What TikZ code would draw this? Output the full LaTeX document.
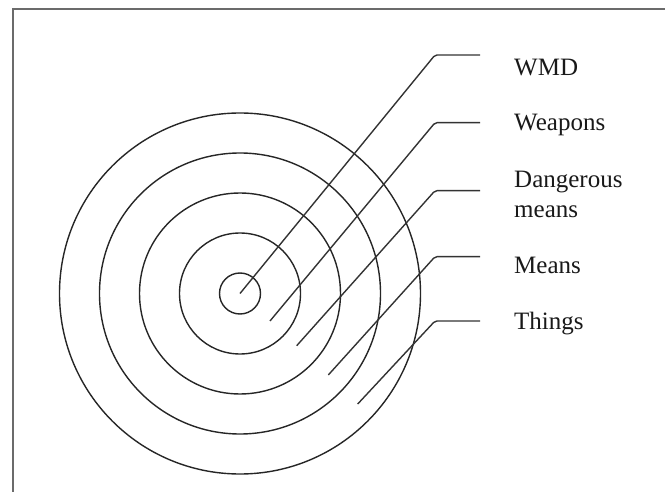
\documentclass[tikz,border=0pt]{standalone}
\usepackage{fontspec}
\setmainfont{Liberation Serif}
\begin{document}
\begin{tikzpicture}[x=1pt,y=-1pt,
  ring/.style={circle, draw=black!85, line width=1.4pt, inner sep=0pt},
  leader/.style={draw=black!80, line width=1.4pt, rounded corners=2pt},
  frame/.style={draw=black!58, line width=2pt},
  lbl/.style={anchor=base west, inner sep=0pt, align=left,
    font=\fontsize{25}{30}\selectfont, text=black!90}]
\useasboundingbox (0,0) rectangle (665,492);
% frame (runs off the right and bottom edges)
\draw[frame] (12.7,495) -- (12.7,9.3) -- (668,9.3);
% rings
\coordinate (ctr) at (240,293.5);
\node[ring, minimum size=41pt]  (r1) at (ctr) {};
\node[ring, minimum size=121pt] (r2) at (ctr) {};
\node[ring, minimum size=201pt] (r3) at (ctr) {};
\node[ring, minimum size=281pt] (r4) at (ctr) {};
\node[ring, minimum size=361pt] (r5) at (ctr) {};
% leader start points
\coordinate (s1) at (240,293.5);
\coordinate (s2) at (270,321);
\coordinate (s3) at (296.7,345.7);
\coordinate (s4) at (328.3,375);
\coordinate (s5) at (357.7,404);
% bends and ends
\coordinate (b1) at (435,55);    \coordinate (e1) at (480,55);
\coordinate (b2) at (435,122.7); \coordinate (e2) at (480,122.7);
\coordinate (b3) at (435,190.7); \coordinate (e3) at (480,190.7);
\coordinate (b4) at (435,256.7); \coordinate (e4) at (480,256.7);
\coordinate (b5) at (435,321);   \coordinate (e5) at (480,321);
% labels
\node[lbl] (l1) at (514,76) {WMD};
\node[lbl] (l2) at (514,131) {Weapons};
\node[lbl] (l3) at (514,218) {Dangerous\\means};
\node[lbl] (l4) at (514,273) {Means};
\node[lbl] (l5) at (514,330) {Things};
% leaders
\draw[leader] (s1) -- (b1) -- (e1);
\draw[leader] (s2) -- (b2) -- (e2);
\draw[leader] (s3) -- (b3) -- (e3);
\draw[leader] (s4) -- (b4) -- (e4);
\draw[leader] (s5) -- (b5) -- (e5);
\end{tikzpicture}
\end{document}
